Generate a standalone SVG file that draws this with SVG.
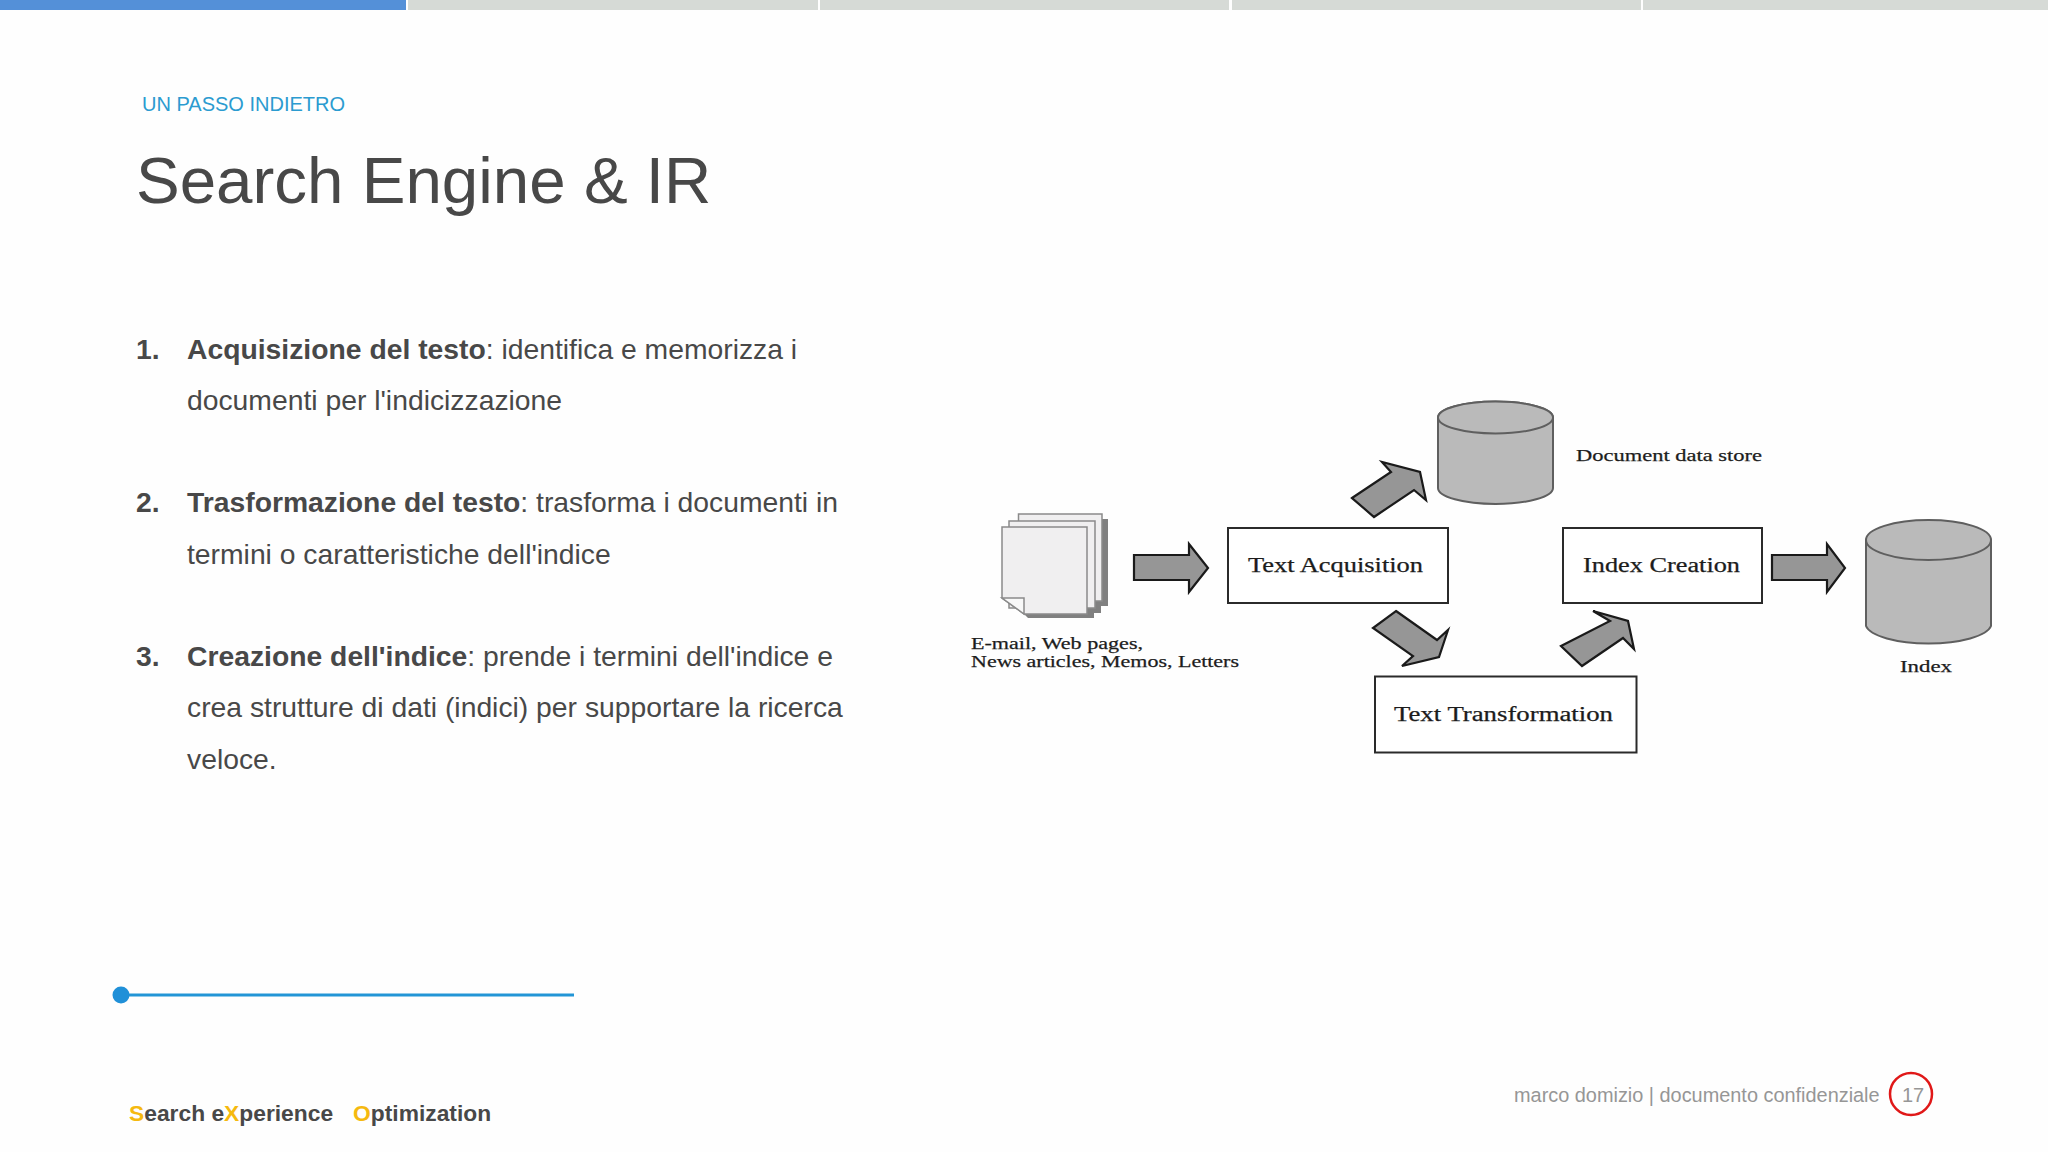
<svg xmlns="http://www.w3.org/2000/svg" width="2048" height="1152" viewBox="0 0 2048 1152">
<style>
.s{font-family:"Liberation Sans",Arial,sans-serif}
.b{font-size:28.3px;fill:#484848}
.bb{font-weight:700}
.d{font-family:"Liberation Serif","Times New Roman",serif;fill:#1c1c1c;stroke:#1c1c1c;stroke-width:.25px}
.box{fill:#ffffff;stroke:#2a2a2a;stroke-width:2}
.ar{fill:#969696;stroke:#1a1a1a;stroke-width:2.2;stroke-linejoin:miter}
.cy{fill:#bababa;stroke:#5f5f5f;stroke-width:2}
.pg{fill:#f0eff0;stroke:#8a8a8a;stroke-width:1.5}
.y{fill:#f5b90f}
</style>
<rect width="2048" height="1152" fill="#fefefe"/>
<g id="progress">
<rect x="0" y="0" width="406" height="10" fill="#5490d8"/>
<rect x="408" y="0" width="410" height="10" fill="#d6dad6"/>
<rect x="820" y="0" width="409" height="10" fill="#d6dad6"/>
<rect x="1232" y="0" width="409" height="10" fill="#d6dad6"/>
<rect x="1643" y="0" width="405" height="10" fill="#d6dad6"/>
</g>
<text class="s" x="142" y="111" font-size="20" fill="#2b9bd0">UN PASSO INDIETRO</text>
<text class="s" x="136" y="202.500" font-size="65.500" fill="#484848">Search Engine &amp; IR</text>
<g id="body" class="s b">
<text x="136" y="359" class="bb">1.</text>
<text x="187" y="359"><tspan class="bb">Acquisizione del testo</tspan>: identifica e memorizza i</text>
<text x="187" y="410">documenti per l'indicizzazione</text>
<text x="136" y="512" class="bb">2.</text>
<text x="187" y="512"><tspan class="bb">Trasformazione del testo</tspan>: trasforma i documenti in</text>
<text x="187" y="564">termini o caratteristiche dell'indice</text>
<text x="136" y="666" class="bb">3.</text>
<text x="187" y="666"><tspan class="bb">Creazione dell'indice</tspan>: prende i termini dell'indice e</text>
<text x="187" y="717">crea strutture di dati (indici) per supportare la ricerca</text>
<text x="187" y="769">veloce.</text>
</g>
<g id="connectors">
<polygon class="ar" points="1134,555 1189,555 1189,544 1208,568 1189,592 1189,580 1134,580"/>
<polygon class="ar" points="1352,498 1391,472 1382,462 1420,472 1426,500 1414,490 1374,517"/>
<polygon class="ar" points="1396,611 1437,640 1448,630 1439,657 1402,666 1413,656 1373,628"/>
<polygon class="ar" points="1561,646 1610,621 1593,611 1628,621 1634,649 1623,638 1582,666"/>
<polygon class="ar" points="1772,555 1827,555 1827,544 1845,568 1827,592 1827,580 1772,580"/>
</g>
<g id="documents">
<polygon fill="#808080" points="1024,519 1108,519 1108,606 1101,606 1101,613 1094,613 1094,618 1028,618 1024,614"/>
<rect class="pg" x="1018.500" y="514" width="83.500" height="87"/>
<rect class="pg" x="1009" y="521" width="86" height="87"/>
<polygon class="pg" points="1002,527 1087,527 1087,614 1024,614 1002,598"/>
<polygon fill="#f8f8f8" stroke="#8a8a8a" stroke-width="1.500" points="1002,598 1024,598 1024,614"/>
<text class="d" x="971" y="649" font-size="17" textLength="172" lengthAdjust="spacingAndGlyphs">E-mail, Web pages,</text>
<text class="d" x="971" y="667" font-size="17" textLength="268" lengthAdjust="spacingAndGlyphs">News articles, Memos, Letters</text>
</g>
<g id="text-acquisition"><rect class="box" x="1228" y="528" width="220" height="75"/>
<text class="d" x="1248" y="572" font-size="20" textLength="175" lengthAdjust="spacingAndGlyphs">Text Acquisition</text></g>
<g id="index-creation"><rect class="box" x="1563" y="528" width="199" height="75"/>
<text class="d" x="1583" y="572" font-size="20" textLength="157" lengthAdjust="spacingAndGlyphs">Index Creation</text></g>
<g id="text-transformation"><rect class="box" x="1375" y="676.500" width="261.500" height="76"/>
<text class="d" x="1394" y="721" font-size="20" textLength="219" lengthAdjust="spacingAndGlyphs">Text Transformation</text></g>
<g id="document-data-store">
<path class="cy" d="M1438,417.500 V488 A57.500,16 0 0 0 1553,488 V417.500 A57.500,16 0 0 0 1438,417.500 Z"/>
<ellipse class="cy" cx="1495.500" cy="417.500" rx="57.500" ry="16"/>
<text class="d" x="1576" y="461" font-size="17" textLength="186" lengthAdjust="spacingAndGlyphs">Document data store</text>
</g>
<g id="index">
<path class="cy" d="M1866,540 V626 A63,20 0 0 0 1991,626 V540 A63,20 0 0 0 1866,540 Z"/>
<ellipse class="cy" cx="1928.500" cy="540" rx="62.500" ry="20"/>
<text class="d" x="1900" y="672" font-size="17" textLength="52" lengthAdjust="spacingAndGlyphs">Index</text>
</g>
<g id="rule">
<line x1="121" y1="995" x2="574" y2="995" stroke="#2295d6" stroke-width="3"/>
<circle cx="121" cy="995" r="8.500" fill="#2090d8"/>
</g>
<text class="s" x="129" y="1121" font-size="22.800" font-weight="700" fill="#484848"><tspan class="y">S</tspan>earch e<tspan class="y">X</tspan>perience<tspan dx="20" class="y">O</tspan>ptimization</text>
<text class="s" x="1514" y="1102" font-size="19.900" fill="#969696">marco domizio | documento confidenziale</text>
<g id="page">
<circle cx="1911" cy="1094" r="21" fill="none" stroke="#e01818" stroke-width="2.500"/>
<text class="s" x="1913" y="1102" font-size="20" fill="#969696" text-anchor="middle">17</text>
</g>
</svg>
